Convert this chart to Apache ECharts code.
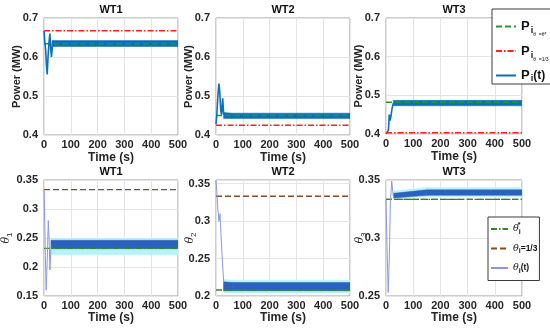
<!DOCTYPE html>
<html><head><meta charset="utf-8">
<script src="https://cdn.jsdelivr.net/npm/echarts@6/dist/echarts.min.js"></script>
<style>html,body{margin:0;padding:0;background:#fff}#c{width:550px;height:330px}</style>
</head><body><div id="c"></div>
<script>
// ---------- data ----------
const titles = ['WT1', 'WT2', 'WT3'];
const timeRange = [0, 500];
const timeInterval = 100;
const powerRange = [0.4, 0.7];
const powerInterval = 0.1;
const thetaRanges = [[0.15, 0.35], [0.2, 0.355], [0.25, 0.35]];
const thetaInterval = 0.05;

// power reference levels
const pStar = [0.634, 0.45, 0.482];      // P_i at theta_i = theta*
const pThird = [0.667, 0.425, 0.403];    // P_i at theta_i = 1/3

// power transients
const wt1PowT = [0, 3, 6, 9, 12, 15, 19, 22, 25, 28, 32];
const wt1PowV = [0.667, 0.64, 0.62, 0.58, 0.555, 0.60, 0.64, 0.66, 0.62, 0.60, 0.635];
const wt2PowT = [0, 3, 7, 11, 14, 18, 21, 25, 28, 30];
const wt2PowV = [0.428, 0.45, 0.50, 0.532, 0.51, 0.46, 0.452, 0.494, 0.46, 0.452];
const wt3PowT = [0, 6, 9, 12, 15, 18, 22, 27];
const wt3PowV = [0.40, 0.40, 0.41, 0.45, 0.435, 0.445, 0.465, 0.48];

// power oscillation bands (steady state)
const wt1PowBandT = [30, 500];
const wt1PowBandLo = [0.627, 0.627];
const wt1PowBandHi = [0.642, 0.642];
const wt2PowBandT = [28, 60, 500];
const wt2PowBandLo = [0.442, 0.442, 0.442];
const wt2PowBandHi = [0.458, 0.456, 0.456];
const wt3PowBandT = [27, 500];
const wt3PowBandLo = [0.473, 0.473];
const wt3PowBandHi = [0.487, 0.487];

// theta reference levels
const thStar = [0.232, 0.208, 0.3333];
const thThird = [0.3333, 0.3333, 0.3333];

// theta transients
const wt1ThT = [0, 2, 5, 8, 12, 16, 19, 22, 26];
const wt1ThV = [0.333, 0.30, 0.22, 0.16, 0.21, 0.28, 0.25, 0.195, 0.235];
const wt2ThT = [0, 3, 7, 11, 15, 19, 24, 29];
const wt2ThV = [0.355, 0.34, 0.315, 0.30, 0.31, 0.28, 0.245, 0.218];
const wt3ThT = [0, 3, 8, 12, 16, 21, 25, 28];
const wt3ThV = [0.333, 0.30, 0.253, 0.28, 0.33, 0.349, 0.34, 0.334];

// theta oscillation bands: outer (light) and inner (dark)
const wt1ThBandT = [26, 500];
const wt1ThOutLo = [0.221, 0.221];
const wt1ThOutHi = [0.249, 0.249];
const wt1ThInLo = [0.2315, 0.2315];
const wt1ThInHi = [0.246, 0.246];
const wt2ThBandT = [28, 60, 500];
const wt2ThOutLo = [0.204, 0.204, 0.204];
const wt2ThOutHi = [0.222, 0.221, 0.221];
const wt2ThInLo = [0.207, 0.207, 0.207];
const wt2ThInHi = [0.219, 0.218, 0.218];
const wt3ThBandT = [28, 150, 500];
const wt3ThOutLo = [0.3335, 0.3355, 0.3355];
const wt3ThOutHi = [0.3405, 0.3435, 0.3435];
const wt3ThInLo = [0.3345, 0.3368, 0.3368];
const wt3ThInHi = [0.3385, 0.3415, 0.3415];

// ---------- styling ----------
const FONT = 'Liberation Sans';
const txt = '#262626';
const cBlue = '#0b6fba';
const cRed = '#ff2020';
const cGreen = '#1e9a30';
const cGreenDark = '#2f8a1e';
const cBrown = '#8a4a1c';
const cThLine = '#8a98e4';
const cCyan = '#b6f3fa';
const cBandDark = '#2a62bd';
const dashDot = [6, 2, 1.5, 2];
const dashed = [6, 3];

const topGrids = [
  {left: 44, top: 18, width: 134, height: 117},
  {left: 216, top: 18, width: 134, height: 117},
  {left: 386, top: 18, width: 136, height: 116}
];
const botGrids = [
  {left: 44, top: 180, width: 134, height: 116},
  {left: 216, top: 180, width: 134, height: 116},
  {left: 386, top: 180, width: 136, height: 116}
];
const grids = topGrids.concat(botGrids).map(g => Object.assign({
  show: true, borderColor: '#9a9a9a', borderWidth: 1, backgroundColor: '#fff', containLabel: false
}, g));

const zip = (t, v) => t.map((x, i) => [x, v[i]]);
const hline = (name, idx, v, color, type, width) => ({
  name, type: 'line', xAxisIndex: idx, yAxisIndex: idx, symbol: 'none', silent: true,
  data: [[timeRange[0], v], [timeRange[1], v]],
  lineStyle: {color, type, width}, itemStyle: {color}
});
const curve = (name, idx, t, v, color, width) => ({
  name, type: 'line', xAxisIndex: idx, yAxisIndex: idx, symbol: 'none', silent: true,
  data: zip(t, v), lineStyle: {color, width}, itemStyle: {color}
});
// filled band between lo and hi, drawn through the axis scales
const band = (idx, t, lo, hi, color) => ({
  name: 'band', type: 'custom', xAxisIndex: idx, yAxisIndex: idx, silent: true, clip: true,
  data: t.map((x, i) => [x, lo[i], hi[i]]),
  renderItem: (params, api) => {
    const i = params.dataIndex;
    if (i >= t.length - 1) return null;
    const a = api.coord([api.value(0), api.value(1)]);
    const b = api.coord([t[i + 1], lo[i + 1]]);
    const c = api.coord([t[i + 1], hi[i + 1]]);
    const d = api.coord([api.value(0), api.value(2)]);
    return {type: 'polygon', shape: {points: [a, b, c, d]}, style: {fill: color, stroke: color, lineWidth: 0.5}};
  }
});

const axisLabelStyle = {color: txt, fontFamily: FONT, fontWeight: 'bold', fontSize: 11};
const splitStyle = {show: true, lineStyle: {color: '#e4e4e4', width: 1}};

const xAxes = [0, 1, 2, 3, 4, 5].map(i => ({
  type: 'value', gridIndex: i, min: timeRange[0], max: timeRange[1], interval: timeInterval,
  axisLine: {show: false}, axisTick: {show: false}, splitLine: splitStyle,
  axisLabel: Object.assign({margin: 4}, axisLabelStyle),
  name: 'Time (s)', nameLocation: 'middle', nameGap: i < 3 ? 17 : 16, nameMoveOverlap: false,
  nameTextStyle: {color: txt, fontFamily: FONT, fontWeight: 'bold', fontSize: 12}
}));

const thetaNameGaps = [30, 18, 18];
const yAxes = [0, 1, 2].map(i => ({
  type: 'value', gridIndex: i, min: powerRange[0], max: powerRange[1], interval: powerInterval,
  axisLine: {show: false}, axisTick: {show: false}, splitLine: splitStyle,
  axisLabel: Object.assign({margin: 6}, axisLabelStyle),
  name: 'Power (MW)', nameLocation: 'middle', nameGap: 22, nameMoveOverlap: false,
  nameTextStyle: {color: txt, fontFamily: FONT, fontWeight: 'bold', fontSize: 11}
})).concat([0, 1, 2].map(i => ({
  type: 'value', gridIndex: 3 + i, min: thetaRanges[i][0], max: thetaRanges[i][1], interval: thetaInterval,
  axisLine: {show: false}, axisTick: {show: false}, splitLine: splitStyle,
  axisLabel: Object.assign({margin: 6, showMaxLabel: i !== 1}, axisLabelStyle),
  name: '{t|θ}{s|' + (i + 1) + '}', nameLocation: 'middle', nameGap: thetaNameGaps[i], nameMoveOverlap: false,
  nameTextStyle: {color: txt, rich: {
    t: {fontFamily: 'DejaVu Serif', fontStyle: 'italic', fontSize: 11, color: txt},
    s: {fontFamily: FONT, fontSize: 8, color: txt, padding: [7, 0, 0, 0]}
  }}
})));

const powT = [wt1PowT, wt2PowT, wt3PowT];
const powV = [wt1PowV, wt2PowV, wt3PowV];
const powBT = [wt1PowBandT, wt2PowBandT, wt3PowBandT];
const powBL = [wt1PowBandLo, wt2PowBandLo, wt3PowBandLo];
const powBH = [wt1PowBandHi, wt2PowBandHi, wt3PowBandHi];
const thT = [wt1ThT, wt2ThT, wt3ThT];
const thV = [wt1ThV, wt2ThV, wt3ThV];
const thBT = [wt1ThBandT, wt2ThBandT, wt3ThBandT];
const thOL = [wt1ThOutLo, wt2ThOutLo, wt3ThOutLo];
const thOH = [wt1ThOutHi, wt2ThOutHi, wt3ThOutHi];
const thIL = [wt1ThInLo, wt2ThInLo, wt3ThInLo];
const thIH = [wt1ThInHi, wt2ThInHi, wt3ThInHi];

let series = [];
for (let i = 0; i < 3; i++) {
  series.push(hline('Pstar', i, pStar[i], cGreen, dashed, 1.5));
  series.push(band(i, powBT[i], powBL[i], powBH[i], cBlue));
  series.push(curve('Pt', i, powT[i], powV[i], cBlue, 1.6));
  series.push(hline('Pthird', i, pThird[i], cRed, dashDot, 1.5));
}
for (let i = 0; i < 3; i++) {
  const k = 3 + i;
  series.push(hline('Tthird', k, thThird[i], cBrown, dashed, 1.3));
  series.push(hline('Tstar', k, thStar[i], cGreenDark, dashDot, 1.3));
  series.push(band(k, thBT[i], thOL[i], thOH[i], cCyan));
  series.push(band(k, thBT[i], thIL[i], thIH[i], cBandDark));
  series.push(curve('Tt', k, thT[i], thV[i], cThLine, 1));
}

const titleCfg = [];
for (let r = 0; r < 2; r++) {
  for (let i = 0; i < 3; i++) {
    const g = r === 0 ? topGrids[i] : botGrids[i];
    titleCfg.push({
      text: titles[i], left: g.left + g.width / 2, top: g.top - 14, textAlign: 'center', padding: 0,
      textStyle: {color: '#111', fontFamily: FONT, fontWeight: 'bold', fontSize: 11}
    });
  }
}

const legendBase = {
  orient: 'vertical', backgroundColor: '#fff', borderColor: '#3a3a3a', borderWidth: 1,
  borderRadius: 0, itemWidth: 20, itemHeight: 12, selectedMode: false,
  itemStyle: {color: 'rgba(0,0,0,0)', borderWidth: 0, opacity: 0}
};
const legends = [
  Object.assign({}, legendBase, {
    data: ['Pstar', 'Pthird', 'Pt'], left: 492, top: 9, itemGap: 7, padding: [11, 8, 1, 3],
    formatter: n => n === 'Pstar' ? '{p|P}{i|i}{s|θ  =θ*}' : n === 'Pthird' ? '{p|P}{i|i}{s|θ  =1/3}' : '{p|P}{j|i}{q|(t)}',
    textStyle: {color: '#111', fontFamily: FONT, rich: {
      p: {fontSize: 13, fontWeight: 'bold', fontFamily: FONT, color: '#111'},
      i: {fontSize: 9, fontWeight: 'bold', fontFamily: FONT, color: '#111', padding: [9, 0, 0, 1]},
      j: {fontSize: 9, fontWeight: 'bold', fontFamily: FONT, color: '#111', padding: [6, 0, 0, 1]},
      q: {fontSize: 12, fontWeight: 'bold', fontFamily: FONT, color: '#111'},
      s: {fontSize: 5, fontFamily: FONT, color: '#111', padding: [17, 0, 0, 0]}
    }}
  }),
  Object.assign({}, legendBase, {
    data: ['Tstar', 'Tthird', 'Tt'], left: 488, top: 217, itemGap: 8, padding: [5, 2, 6, 2], itemWidth: 17,
    formatter: n => n === 'Tstar' ? '{t|θ}{i|i}{u|*}' : n === 'Tthird' ? '{t|θ}{i|i}{q|=1/3}' : '{t|θ}{i|i}{q|(t)}',
    textStyle: {color: '#111', fontFamily: FONT, rich: {
      t: {fontSize: 9.5, fontStyle: 'italic', fontFamily: 'DejaVu Serif', color: '#111'},
      i: {fontSize: 7, fontWeight: 'bold', fontFamily: FONT, color: '#111', padding: [6, 0, 0, 0]},
      u: {fontSize: 7, fontWeight: 'bold', fontFamily: FONT, color: '#111', padding: [0, 0, 7, -3]},
      q: {fontSize: 8.5, fontWeight: 'bold', fontFamily: FONT, color: '#111'}
    }}
  })
];

const chart = echarts.init(document.getElementById('c'), null, {renderer: 'canvas'});
chart.setOption({
  animation: false,
  backgroundColor: '#fff',
  title: titleCfg,
  grid: grids,
  xAxis: xAxes,
  yAxis: yAxes,
  legend: legends,
  series
});
</script></body></html>
